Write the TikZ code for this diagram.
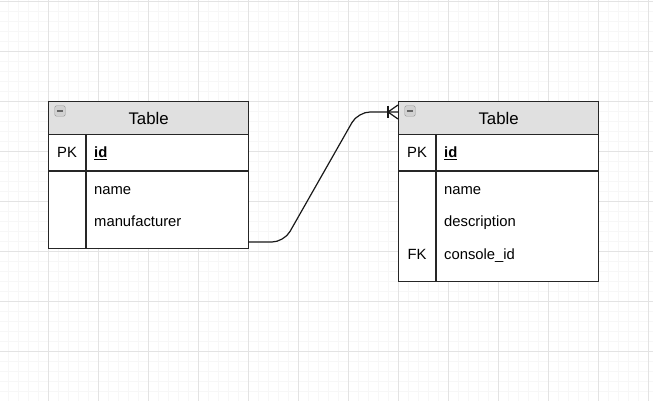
\documentclass[tikz,border=0pt]{standalone}
\usepackage{fontspec}
\setmainfont{Liberation Sans}
\usetikzlibrary{positioning}

\newcommand{\titlesize}{\fontsize{16.8}{19}\selectfont}
\newcommand{\fieldsize}{\fontsize{14.8}{17}\selectfont}

\begin{document}
\begin{tikzpicture}[x=1pt, y=-1pt,
    minorgrid/.style={draw=black!3, line width=0.6pt},
    majorgrid/.style={draw=black!11, line width=0.6pt},
    entity/.style={draw=black!85, line width=1.3pt, fill=white, anchor=north west,
      minimum width=200pt, inner sep=0pt},
    header/.style={draw=black!85, line width=1.3pt, fill=black!12, anchor=north west,
      minimum width=200pt, minimum height=33pt, inner sep=0pt, font=\titlesize},
    sep/.style={draw=black!85, line width=1.3pt},
    key/.style={anchor=base, inner sep=0pt, font=\fieldsize},
    field/.style={anchor=base west, inner sep=0pt, font=\fieldsize},
    minus/.style={draw=black!40, fill=black!18, rounded corners=1.5pt, minimum size=10.5pt, inner sep=0pt},
    link/.style={draw=black!90, line width=1.2pt}
  ]
    \useasboundingbox (0,0) rectangle (653,401);
    % grid
    \foreach \x in {8,18,...,648} \draw[minorgrid] (\x,0) -- (\x,401);
    \foreach \y in {1,11,...,401} \draw[minorgrid] (0,\y) -- (653,\y);
    \foreach \x in {48,98,...,648} \draw[majorgrid] (\x,0) -- (\x,401);
    \foreach \y in {1,51,...,401} \draw[majorgrid] (0,\y) -- (653,\y);

    % consoles
    \node[entity, minimum height=147pt] (ltab) at (48,101) {};
    \node[header] (lhead) at (ltab.north west) {Table};
    \draw[sep] (48,171) -- (248,171);
    \draw[sep] (86,134) -- (86,248);
    \node[minus] (lminus) at (60,111) {};
    \draw[black!60, line width=1.2pt] ([xshift=2.5pt]lminus.west) -- ([xshift=-2.5pt]lminus.east);
    \node[key] (lpk) at (67,157.5) {PK};
    \node[field] (lid) at (94,157.5) {\underline{\textbf{id}}};
    \node[field] (lname) at (94,194) {name};
    \node[field] (lmanu) at (94,226.5) {manufacturer};

    % games
    \node[entity, minimum height=180pt] (rtab) at (398,101) {};
    \node[header] (rhead) at (rtab.north west) {Table};
    \draw[sep] (398,171) -- (598,171);
    \draw[sep] (436,134) -- (436,281);
    \node[minus] (rminus) at (410,111) {};
    \draw[black!60, line width=1.2pt] ([xshift=2.5pt]rminus.west) -- ([xshift=-2.5pt]rminus.east);
    \node[key] (rpk) at (417,157.5) {PK};
    \node[field] (rid) at (444,157.5) {\underline{\textbf{id}}};
    \node[field] (rname) at (444,194) {name};
    \node[field] (rdesc) at (444,226.5) {description};
    \node[key] (rfk) at (417,259.5) {FK};
    \node[field] (rcons) at (444,259.5) {console\_id};

    % relation
    \coordinate (lsrc) at (248,242);
    \coordinate (rdst) at (398,112);
    \draw[link, rounded corners=12pt] (lsrc) -- (284,242) -- (358,112) -- (rdst);
    \draw[link] (388,106) -- (388,118);
    \draw[link] (388,112) -- (398,105);
    \draw[link] (388,112) -- (398,119);
\end{tikzpicture}
\end{document}
